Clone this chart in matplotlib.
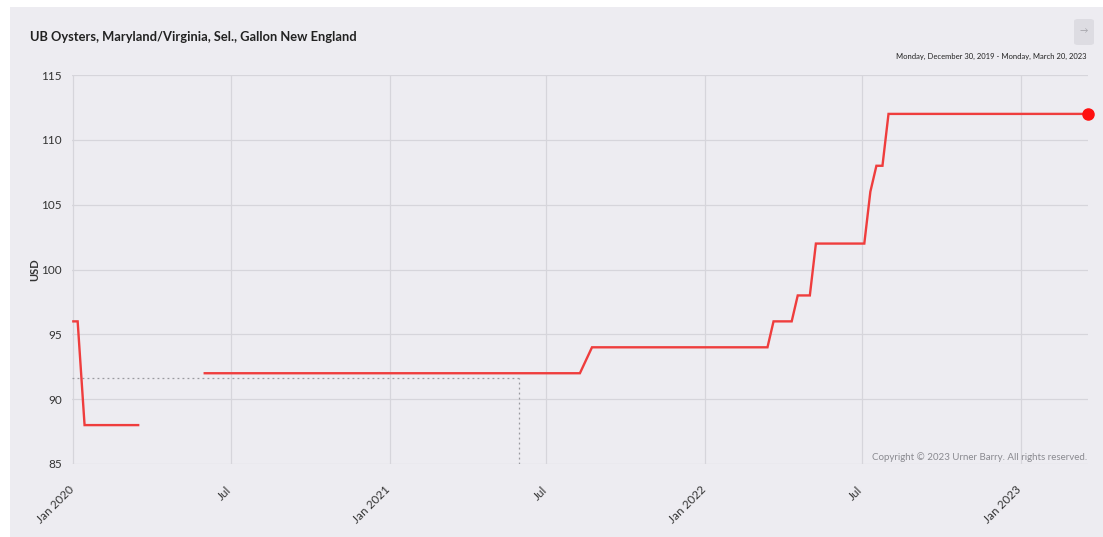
import numpy as np
import matplotlib.pyplot as plt
import matplotlib.transforms as mtransforms
from matplotlib.patches import Rectangle, FancyBboxPatch

plt.rcParams['font.family'] = ['Lato', 'DejaVu Sans']

# weekly quotes, NaN marks the break in spring 2020
dates = ['2020-01-01', '2020-01-06', '2020-01-14', '2020-03-16', '2020-04-15',
         '2020-06-01', '2021-08-09', '2021-08-23', '2022-03-14', '2022-03-21',
         '2022-04-11', '2022-04-18', '2022-05-02', '2022-05-09', '2022-07-04',
         '2022-07-11', '2022-07-18', '2022-07-25', '2022-08-01', '2023-03-20']
prices = [96, 96, 88, 88, np.nan,
          92, 92, 94, 94, 96,
          96, 98, 98, 102, 102,
          106, 108, 108, 112, 112]

tick_dates = ['2020-01-01', '2020-07-01', '2021-01-01', '2021-07-01',
              '2022-01-01', '2022-07-01', '2023-01-01']
tick_labels = ['Jan 2020', 'Jul', 'Jan 2021', 'Jul', 'Jan 2022', 'Jul', 'Jan 2023']
y_ticks = [85, 90, 95, 100, 105, 110, 115]

# hover crosshair
cross_date = '2021-05-31'
cross_value = 91.65

x = np.array(dates, dtype='datetime64[D]')
y = np.array(prices, dtype=float)
xt = np.array(tick_dates, dtype='datetime64[D]')

bg = '#edecf1'
fig = plt.figure(figsize=(11.03, 5.37), dpi=100, facecolor='white')
fig.patches.append(Rectangle((10 / 1103, 0), 1 - 10 / 1103, 1 - 7 / 537,
                             transform=fig.transFigure, facecolor=bg,
                             edgecolor='none', zorder=-5))

ax = fig.add_axes([71.6 / 1103, 1 - 464 / 537, (1088.2 - 71.6) / 1103, (464 - 75) / 537])
ax.patch.set_alpha(0)

ax.plot(x, y, color='#ef3d3d', lw=1.7, zorder=3, solid_joinstyle='miter')
ax.plot(x[-1:], y[-1:], 'o', color='#ff1010', ms=8, zorder=4, clip_on=False)

# crosshair
cx = np.datetime64(cross_date)
ax.plot([np.datetime64('2019-12-30'), cx], [cross_value, cross_value],
        ls=(0, (1.5, 2.5)), color='#9a9a9f', lw=0.9, zorder=2)
ax.plot([cx, cx], [85, cross_value], ls=(0, (1.5, 2.5)),
        color='#9a9a9f', lw=0.9, zorder=2)

ax.set_xlim(np.datetime64('2019-12-30'), np.datetime64('2023-03-20'))
ax.set_ylim(85, 115)
ax.set_yticks(y_ticks)
ax.set_xticks(xt)
ax.set_xticklabels([])
ax.grid(True, color='#d6d5db', lw=0.9)
ax.set_axisbelow(True)
for s in ax.spines.values():
    s.set_visible(False)
ax.tick_params(axis='both', length=0, labelsize=8.5, colors='#333333')
ax.tick_params(axis='y', pad=7)
ax.set_ylabel('USD', fontsize=8, fontweight='bold', color='#333333', labelpad=0)
ax.yaxis.set_label_coords(-31 / 1016.6, 0.5)

# rotated month labels under the axis
lab_tr = (mtransforms.blended_transform_factory(ax.transData, ax.transAxes)
          + mtransforms.ScaledTranslation(-5 / 100, -20 / 100, fig.dpi_scale_trans))
for d, t in zip(xt, tick_labels):
    ax.text(d, 0, t, transform=lab_tr, rotation=45, ha='right', va='top',
            rotation_mode='anchor', fontsize=8.5, color='#333333')

fig.text(30 / 1103, 1 - 37 / 537, 'UB Oysters, Maryland/Virginia, Sel., Gallon New England',
         fontsize=9.3, fontweight='bold', color='#222222', va='center')
fig.text(1087 / 1103, 1 - 56 / 537,
         'Monday, December 30, 2019 - Monday, March 20, 2023',
         fontsize=5.5, color='#222222', ha='right', va='center')
fig.text(1087 / 1103, 1 - 457 / 537,
         'Copyright \u00a9 2023 Urner Barry. All rights reserved.',
         fontsize=7.0, color='#8a8a90', ha='right', va='center')

# small export button, top right
fig.patches.append(FancyBboxPatch((1074 / 1103, 1 - 45 / 537), 20 / 1103, 26 / 537,
                                  boxstyle='round,pad=0,rounding_size=0.004',
                                  transform=fig.transFigure, facecolor='#dddce2',
                                  edgecolor='none', zorder=1))
fig.text(1084 / 1103, 1 - 31 / 537, '\u2192', fontsize=6, color='#a0a0a6',
         ha='center', va='center')

fig.savefig('out.png', dpi=100, facecolor='white')
